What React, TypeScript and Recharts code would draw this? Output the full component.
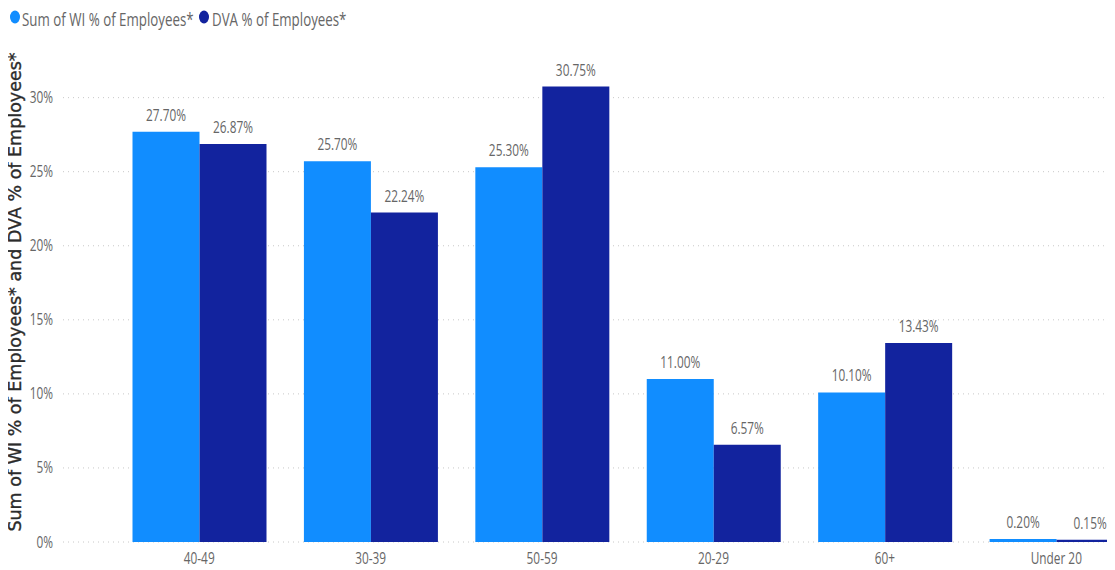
import React from "react";
import { BarChart, Bar, XAxis, YAxis, CartesianGrid, LabelList } from "recharts";

const categories = ["40-49", "30-39", "50-59", "20-29", "60+", "Under 20"];
const wiValues = [27.7, 25.7, 25.3, 11.0, 10.1, 0.2];
const dvaValues = [26.87, 22.24, 30.75, 6.57, 13.43, 0.15];
const yTicks = [0, 5, 10, 15, 20, 25, 30];
const seriesNames = ["Sum of WI % of Employees*", "DVA % of Employees*"];
const seriesColors = ["#118DFF", "#12239E"];
const yTitle = "Sum of WI % of Employees* and DVA % of Employees*";

const data = categories.map((c, i) => ({ cat: c, wi: wiValues[i], dva: dvaValues[i] }));

const SX = 0.74;
const FONT = "'Open Sans', sans-serif";
const GRAY = "#666666";

const XTick = (props: any) => {
  const { x, payload } = props;
  return (
    <g>
      <text x={0} y={0} transform={`translate(${x},564) scale(${SX},1)`} textAnchor="middle" fontFamily={FONT} fontSize={16} fill={GRAY}>
        {payload.value}
      </text>
    </g>
  );
};

const YTick = (props: any) => {
  const { y, payload } = props;
  return (
    <g>
      <text x={0} y={0} transform={`translate(53,${y + 5.5}) scale(${SX},1)`} textAnchor="end" fontFamily={FONT} fontSize={16} fill={GRAY}>
        {`${payload.value}%`}
      </text>
    </g>
  );
};

const BarLabel = (props: any) => {
  const { x, y, width, value } = props;
  const cx = Number(x) + Number(width) / 2;
  return (
    <text x={0} y={0} transform={`translate(${cx},${Number(y) - 11}) scale(${SX},1)`} textAnchor="middle" fontFamily={FONT} fontSize={16} fill={GRAY}>
      {`${Number(value).toFixed(2)}%`}
    </text>
  );
};

export default function App() {
  return (
    <div style={{ position: "relative", margin: "-8px 0 0 -8px", width: 1115, height: 570, overflow: "hidden", background: "#fff" }}>
      <BarChart
        width={1142}
        height={570}
        data={data}
        margin={{ top: 68, right: 0, left: 0, bottom: 0 }}
        barCategoryGap={19}
        barGap={0}
      >
        <CartesianGrid vertical={false} horizontalValues={yTicks} stroke="#c8c8c8" strokeDasharray="1 4" />
        <XAxis
          dataKey="cat"
          axisLine={false}
          tickLine={false}
          height={28}
          padding={{ left: 50.5, right: 0 }}
          tick={<XTick />}
          interval={0}
        />
        <YAxis
          width={63}
          domain={[0, 32]}
          ticks={yTicks}
          axisLine={false}
          tickLine={false}
          tick={<YTick />}
        />
        <Bar dataKey="wi" name={seriesNames[0]} fill={seriesColors[0]} isAnimationActive={false}>
          <LabelList dataKey="wi" content={<BarLabel />} />
        </Bar>
        <Bar dataKey="dva" name={seriesNames[1]} fill={seriesColors[1]} isAnimationActive={false}>
          <LabelList dataKey="dva" content={<BarLabel />} />
        </Bar>
      </BarChart>
      <svg width={1115} height={570} style={{ position: "absolute", left: 0, top: 0, pointerEvents: "none" }}>
        <text x={0} y={0} transform="translate(21,292) rotate(-90)" textAnchor="middle" fontFamily="'DejaVu Sans', sans-serif" fontSize={17.5} fill="#2b2b2b" stroke="#2b2b2b" strokeWidth={0.35}>
          {yTitle}
        </text>
        <ellipse cx={15} cy={17} rx={5} ry={6.5} fill={seriesColors[0]} />
        <text x={0} y={0} transform={`translate(22,26) scale(${SX},1)`} fontFamily={FONT} fontSize={18} fill={GRAY}>
          {seriesNames[0]}
        </text>
        <ellipse cx={204} cy={17} rx={5} ry={6.5} fill={seriesColors[1]} />
        <text x={0} y={0} transform={`translate(212,26) scale(${SX},1)`} fontFamily={FONT} fontSize={18} fill={GRAY}>
          {seriesNames[1]}
        </text>
      </svg>
    </div>
  );
}
